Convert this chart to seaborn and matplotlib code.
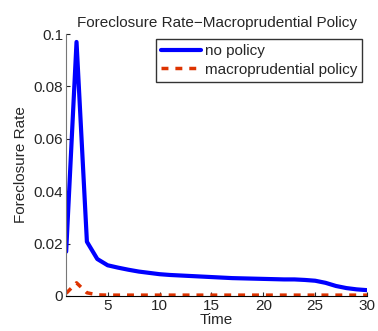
import numpy as np
import pandas as pd
import matplotlib
matplotlib.use("Agg")
import matplotlib.pyplot as plt
import seaborn as sns

sns.set_style("ticks")
plt.rcParams['font.family'] = ['Liberation Sans', 'DejaVu Sans']

# data
time = list(range(1, 31))
no_policy = [0.0169, 0.0970, 0.0207, 0.0141, 0.0117, 0.0108, 0.0100, 0.0093, 0.0088, 0.0083,
             0.0080, 0.0078, 0.0076, 0.0074, 0.0072, 0.0070, 0.0068, 0.0067, 0.0066, 0.0065,
             0.0064, 0.0063, 0.0063, 0.0061, 0.0058, 0.0050, 0.0038, 0.0030, 0.0025, 0.0022]
macro_policy = [0.0010, 0.0050, 0.0012, 0.0004, 0.0003, 0.0003, 0.0003, 0.0003, 0.0003, 0.0003,
                0.0003, 0.0003, 0.0003, 0.0003, 0.0003, 0.0003, 0.0003, 0.0003, 0.0003, 0.0003,
                0.0003, 0.0003, 0.0003, 0.0003, 0.0003, 0.0003, 0.0003, 0.0003, 0.0003, 0.0003]

data = pd.DataFrame({"Time": time, "no policy": no_policy,
                     "macroprudential policy": macro_policy})

fig = plt.figure(figsize=(3.78, 3.31), dpi=100)
ax = fig.add_axes([0.175, 0.106, 0.796, 0.791])

sns.lineplot(data=data, x="Time", y="no policy", ax=ax, color="#0000ff",
             linewidth=3, label="no policy")
sns.lineplot(data=data, x="Time", y="macroprudential policy", ax=ax, color="#dd3300",
             linewidth=2.5, linestyle=(0, (2, 2)), label="macroprudential policy")

ax.set_xlim(1, 30)
ax.set_ylim(0, 0.1)
ax.set_xticks([5, 10, 15, 20, 25, 30])
ax.set_yticks([0, 0.02, 0.04, 0.06, 0.08, 0.1])
ax.set_yticklabels(["0", "0.02", "0.04", "0.06", "0.08", "0.1"])
ax.tick_params(direction="in", length=3, labelsize=11, pad=2)
ax.set_xlabel("Time", fontsize=11, labelpad=0)
ax.set_ylabel("Foreclosure Rate", fontsize=11, labelpad=4)
ax.set_title("Foreclosure Rate\u2212Macroprudential Policy", fontsize=11, pad=5)

sns.despine(ax=ax)
ax.spines["left"].set_color("#777777")
ax.spines["bottom"].set_color("black")

leg = ax.legend(loc="upper right", fontsize=11, frameon=True, fancybox=False,
                handlelength=2.6, handletextpad=0.25, borderpad=0.35,
                labelspacing=0.3, borderaxespad=0.3)
leg.get_frame().set_edgecolor("black")
leg.get_frame().set_linewidth(1)

fig.savefig("out.png", dpi=100)
